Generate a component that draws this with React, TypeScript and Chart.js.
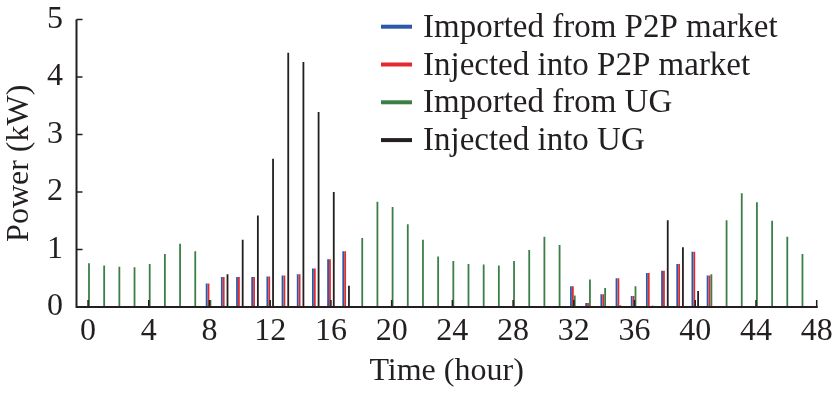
import React, { useEffect, useRef } from "react";
import { Chart, registerables } from "chart.js";

Chart.register(...registerables);

const hours = [
  0, 1, 2, 3, 4, 5, 6, 7, 8, 9, 10, 11, 12, 13, 14, 15, 16, 17, 18, 19, 20, 21, 22, 23,
  24, 25, 26, 27, 28, 29, 30, 31, 32, 33, 34, 35, 36, 37, 38, 39, 40, 41, 42, 43, 44, 45, 46, 47,
];

const importedP2P = [
  0, 0, 0, 0, 0, 0, 0, 0, 0.41, 0.52, 0.52, 0.52, 0.53, 0.55, 0.57, 0.67, 0.83, 0.97, 0, 0, 0, 0, 0, 0,
  0, 0, 0, 0, 0, 0, 0, 0, 0.36, 0.07, 0.22, 0.5, 0.19, 0.59, 0.63, 0.75, 0.96, 0.55, 0, 0, 0, 0, 0, 0,
];

const injectedP2P = [
  0, 0, 0, 0, 0, 0, 0, 0, 0.41, 0.52, 0.52, 0.52, 0.53, 0.55, 0.57, 0.67, 0.83, 0.97, 0, 0, 0, 0, 0, 0,
  0, 0, 0, 0, 0, 0, 0, 0, 0.36, 0.07, 0.22, 0.5, 0.19, 0.59, 0.63, 0.75, 0.96, 0.55, 0, 0, 0, 0, 0, 0,
];

const importedUG = [
  0.76, 0.72, 0.7, 0.69, 0.75, 0.92, 1.1, 0.97, 0.12, 0, 0, 0, 0, 0, 0, 0, 0, 0, 1.2, 1.83, 1.74, 1.44, 1.17, 0.88,
  0.8, 0.75, 0.74, 0.72, 0.8, 0.99, 1.22, 1.08, 0.2, 0.48, 0.33, 0.03, 0.36, 0, 0, 0, 0, 0.57, 1.51, 1.98, 1.82, 1.5, 1.22, 0.92,
];

const injectedUG = [
  0, 0, 0, 0, 0, 0, 0, 0, 0, 0.57, 1.17, 1.59, 2.58, 4.42, 4.26, 3.39, 2.0, 0.37, 0, 0, 0, 0, 0, 0,
  0, 0, 0, 0, 0, 0, 0, 0, 0, 0, 0, 0, 0, 0.02, 1.51, 1.04, 0.28, 0, 0, 0, 0, 0, 0, 0,
];

const seriesLabels = [
  "Imported from P2P market",
  "Injected into P2P market",
  "Imported from UG",
  "Injected into UG",
];
const seriesColors = ["#2b58a8", "#e4282c", "#3b7f47", "#231f20"];

const xTickValues = [0, 4, 8, 12, 16, 20, 24, 28, 32, 36, 40, 44, 48];
const yTickValues = [0, 1, 2, 3, 4, 5];

const FONT = '"Liberation Serif", "Times New Roman", serif';
const INK = "#231f20";

const axesAndLegend = {
  id: "axesAndLegend",
  afterDatasetsDraw(chart: any) {
    const { ctx, scales } = chart;
    const x = scales.x;
    const y = scales.y;
    const x0 = x.left;
    const x1 = x.getPixelForValue(48);
    const y0 = y.getPixelForValue(0);
    const yTop = y.getPixelForValue(5);
    ctx.save();
    ctx.strokeStyle = INK;
    ctx.lineWidth = 2;
    ctx.beginPath();
    ctx.moveTo(x0, yTop);
    ctx.lineTo(x0, y0);
    ctx.lineTo(x1 + 1, y0);
    ctx.stroke();
    ctx.lineWidth = 1.5;
    ctx.beginPath();
    for (const t of xTickValues) {
      const px = x.getPixelForValue(t);
      ctx.moveTo(px, y0);
      ctx.lineTo(px, y0 - 7);
    }
    for (const t of yTickValues) {
      if (t === 0) continue;
      const py = y.getPixelForValue(t);
      ctx.moveTo(x0, py);
      ctx.lineTo(x0 + 6, py);
    }
    ctx.stroke();

    // legend
    const lx = 381;
    const lw = 31;
    const tx = 423;
    const ly0 = 26.7;
    const dy = 37.8;
    ctx.font = `33px ${FONT}`;
    ctx.textBaseline = "alphabetic";
    ctx.textAlign = "left";
    seriesLabels.forEach((lab, i) => {
      const ly = ly0 + i * dy;
      ctx.strokeStyle = seriesColors[i];
      ctx.lineWidth = 4;
      ctx.beginPath();
      ctx.moveTo(lx, ly);
      ctx.lineTo(lx + lw, ly);
      ctx.stroke();
      ctx.fillStyle = INK;
      ctx.fillText(lab, tx, ly + 10);
    });
    ctx.restore();
  },
};

export default function App() {
  const ref = useRef<HTMLCanvasElement | null>(null);

  useEffect(() => {
    if (!ref.current) return;
    const series = [importedP2P, injectedP2P, importedUG, injectedUG];
    const chart = new Chart(ref.current, {
      type: "bar",
      data: {
        datasets: series.map((vals, i) => ({
          label: seriesLabels[i],
          data: hours.map((h, j) => ({ x: h, y: vals[j] })),
          backgroundColor: seriesColors[i],
          borderWidth: 0,
          categoryPercentage: 0.5,
          barPercentage: 0.95,
        })),
      },
      options: {
        animation: false,
        responsive: false,
        maintainAspectRatio: false,
        layout: { padding: { top: 19.5, right: 17.3, left: 0, bottom: 0 } },
        plugins: {
          legend: { display: false },
          tooltip: { enabled: false },
        },
        scales: {
          x: {
            type: "linear",
            min: -0.76,
            max: 48,
            offset: false,
            grid: { display: false, drawTicks: false },
            border: { display: false },
            afterBuildTicks: (s: any) => {
              s.ticks = xTickValues.map((v) => ({ value: v }));
            },
            afterFit: (s: any) => {
              s.height = 87;
              s.paddingLeft = 0;
              s.paddingRight = 0;
            },
            ticks: {
              autoSkip: false,
              maxRotation: 0,
              padding: 5,
              color: INK,
              font: { family: FONT, size: 32 },
            },
            title: {
              display: true,
              text: "Time (hour)",
              color: INK,
              font: { family: FONT, size: 32, lineHeight: 1.2 },
              padding: { top: 0, bottom: 3 },
            },
          },
          y: {
            min: 0,
            max: 5,
            grid: { display: false, drawTicks: false },
            border: { display: false },
            afterBuildTicks: (s: any) => {
              s.ticks = yTickValues.map((v) => ({ value: v }));
            },
            afterFit: (s: any) => {
              s.width = 76.5;
              s.paddingTop = 0;
              s.paddingBottom = 0;
            },
            ticks: {
              padding: 13.5,
              color: INK,
              font: { family: FONT, size: 32 },
            },
            title: {
              display: true,
              text: "Power (kW)",
              color: INK,
              font: { family: FONT, size: 32, lineHeight: 1 },
              padding: { top: 4, bottom: 0 },
            },
          },
        },
      },
      plugins: [axesAndLegend],
    } as any);
    return () => chart.destroy();
  }, []);

  return (
    <div style={{ position: "absolute", left: 0, top: 0, width: 834, height: 394 }}>
      <canvas ref={ref} width={834} height={394} style={{ display: "block", width: 834, height: 394 }} />
    </div>
  );
}
